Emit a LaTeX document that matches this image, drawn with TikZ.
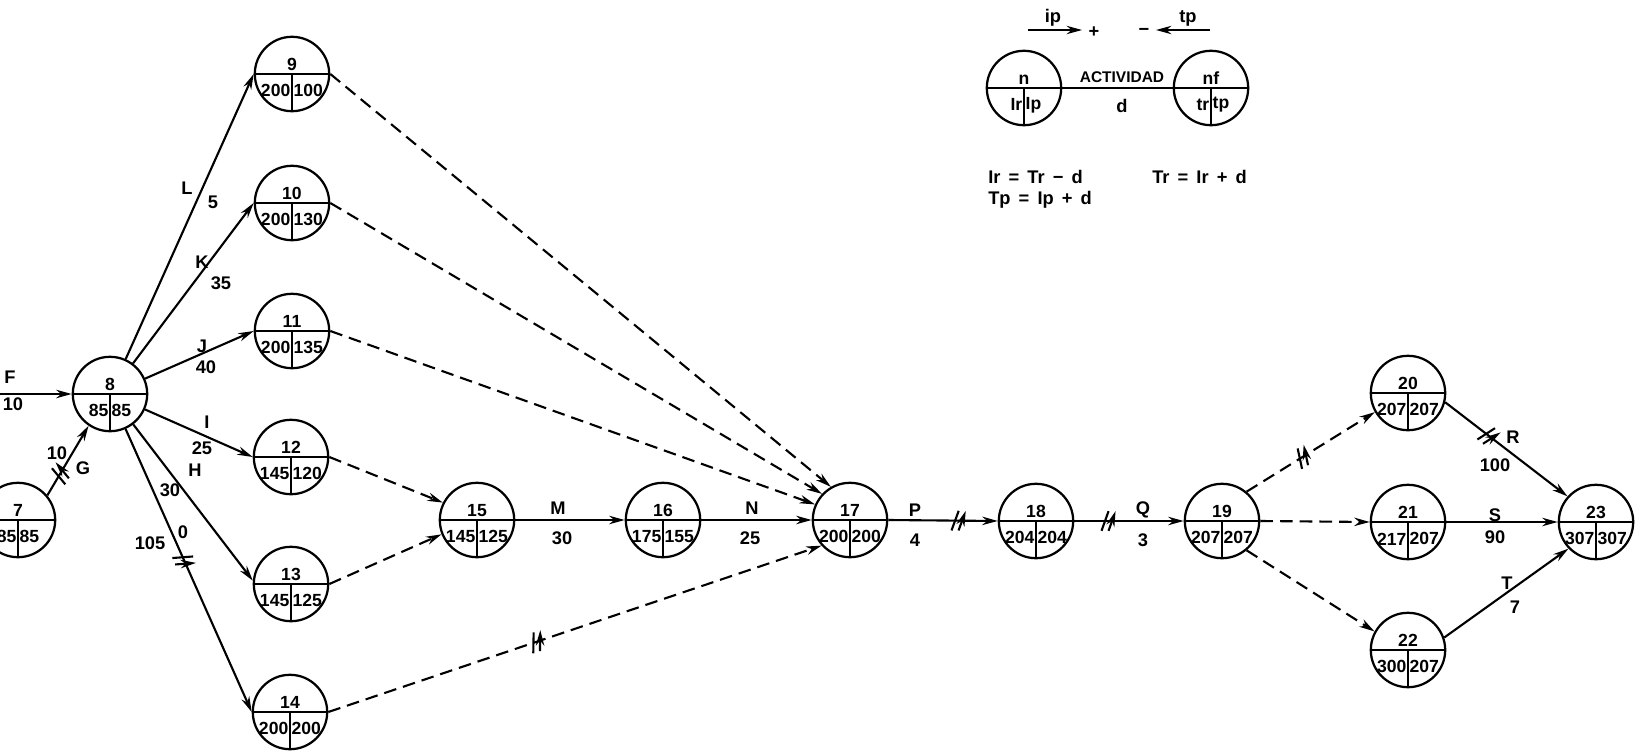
\documentclass[tikz,border=0pt]{standalone}
\usepackage{fontspec}
\setmainfont{Liberation Sans}
\usetikzlibrary{arrows.meta, positioning, decorations.markings}

\tikzstyle{evento}   = [circle, draw, line width=1.6pt, minimum size=18.6mm, inner sep=0pt,
                        path picture={\draw[line width=1.5pt] (path picture bounding box.west) -- (path picture bounding box.east);
                                      \draw[line width=1.5pt] (path picture bounding box.center) -- (path picture bounding box.south);}]
\tikzstyle{numtxt}   = [inner sep=0pt, font=\fontsize{12.5}{12.5}\selectfont\bfseries]
\tikzstyle{lbl}      = [inner sep=0pt, font=\fontsize{13}{13}\selectfont\bfseries]
\tikzstyle{flecha}   = [line width=1.5pt, -{Stealth[length=11pt,width=6pt]}]
\tikzstyle{ficticia} = [flecha, dash pattern=on 9pt off 5pt]
\tikzset{corte/.style={postaction={decorate}, decoration={markings,
           mark=at position #1 with {\draw[line width=1.5pt, solid] (-4pt,-7pt) -- (1pt,7pt) (1pt,-7pt) -- (6pt,7pt);}}}}

% evento: nombre, posicion, numero, izquierda, derecha
\newcommand{\evento}[5]{%
  \node[evento] (#1) at (#2) {};
  \node[numtxt, above=2pt of #1.center] (#1-n) {#3};
  \node[numtxt, anchor=east] (#1-a) at ([shift={(-1pt,-12pt)}]#1.center) {#4};
  \node[numtxt, anchor=west] (#1-b) at ([shift={(1pt,-12pt)}]#1.center) {#5};
}

\begin{document}
\begin{tikzpicture}[x=0.25mm, y=-0.25mm]
    \useasboundingbox (0,0) rectangle (1642,753);

    % leyenda
    \evento{na}{1024,88}{n}{Ir}{Ip}
    \evento{nb}{1211,88}{nf}{tr}{tp}
    \draw[line width=1.5pt] (na.east) -- (nb.west);
    \node[lbl, font=\fontsize{11}{11}\selectfont\bfseries] (act) at (1122,77) {ACTIVIDAD};
    \node[lbl] (dur) at (1122,106) {d};
    \coordinate (ipa) at (1028,30); \coordinate (ipb) at (1082,30);
    \coordinate (tpa) at (1210,30); \coordinate (tpb) at (1156,30);
    \draw[flecha, line width=1pt] (ipa) -- (ipb);
    \draw[flecha, line width=1pt] (tpa) -- (tpb);
    \node[lbl] (ip) at (1053,18) {ip};
    \node[lbl] (mas) at (1094,32) {+};
    \node[lbl] (menos) at (1144,32) {−};
    \node[lbl] (tp) at (1188,18) {tp};
    \node[lbl, anchor=west] (eq1) at (988,177) {Ir \,=\, Tr \,−\, d};
    \node[lbl, anchor=west] (eq2) at (1152,177) {Tr \,=\, Ir \,+\, d};
    \node[lbl, anchor=west] (eq3) at (988,200) {Tp \,=\, Ip \,+\, d};

    % eventos
    \evento{n7}{18,520}{7}{85}{85}
    \evento{n8}{110,394}{8}{85}{85}
    \evento{n9}{292,74}{9}{200}{100}
    \evento{n10}{292,203}{10}{200}{130}
    \evento{n11}{292,331}{11}{200}{135}
    \evento{n12}{291,457}{12}{145}{120}
    \evento{n13}{291,584}{13}{145}{125}
    \evento{n14}{290,712}{14}{200}{200}
    \evento{n15}{477,520}{15}{145}{125}
    \evento{n16}{663,520}{16}{175}{155}
    \evento{n17}{850,520}{17}{200}{200}
    \evento{n18}{1036,521}{18}{204}{204}
    \evento{n19}{1222,521}{19}{207}{207}
    \evento{n20}{1408,393}{20}{207}{207}
    \evento{n21}{1408,522}{21}{217}{207}
    \evento{n22}{1408,650}{22}{300}{207}
    \evento{n23}{1596,522}{23}{307}{307}

    % actividades
    \coordinate (ini) at (0,394);
    \draw[flecha] (ini) -- (n8);
    \draw[flecha, corte=0.3] (n7.40) -- (n8.236);
    \draw[flecha] (n8) -- (n9.west);
    \draw[flecha] (n8) -- (n10.west);
    \draw[flecha] (n8) -- (n11.west);
    \draw[flecha] (n8) -- (n12.west);
    \draw[flecha] (n8) -- (n13.175);
    \draw[flecha, corte=0.46] (n8) -- (n14.west);
    \draw[ficticia] (n9.east) -- (n17.120);
    \draw[ficticia] (n10.east) -- (n17.137);
    \draw[ficticia] (n11.east) -- (n17.156);
    \draw[ficticia] (n12.east) -- (n15.153);
    \draw[ficticia] (n13.east) -- (n15.202);
    \draw[ficticia, corte=0.42] (n14.east) -- (n17.222);
    \draw[flecha] (n15.east) -- (n16.west);
    \draw[flecha] (n16.east) -- (n17.west);
    \draw[flecha, corte=0.63] (n17.east) -- (n18.west);
    \draw[flecha, corte=0.3] (n18.east) -- (n19.west);
    \draw[ficticia, corte=0.43] (n19.50) -- (n20.210);
    \draw[ficticia] (n19.east) -- (n21.west);
    \draw[ficticia] (n19.-50) -- (n22.151);
    \draw[flecha, corte=0.35] (n20.-14) -- (n23.138);
    \draw[flecha] (n21.east) -- (n23.west);
    \draw[flecha] (n22.19) -- (n23.224);

    % etiquetas
    \node[lbl] (lF) at (10,377) {F};      \node[lbl] (dF) at (13,404) {10};
    \node[lbl] (lG) at (83,468) {G};      \node[lbl] (dG) at (57,453) {10};
    \node[lbl] (lL) at (187,188) {L};     \node[lbl] (dL) at (213,202) {5};
    \node[lbl] (lK) at (202,262) {K};     \node[lbl] (dK) at (221,283) {35};
    \node[lbl] (lJ) at (202,346) {J};     \node[lbl] (dJ) at (206,367) {40};
    \node[lbl] (lI) at (207,422) {I};     \node[lbl] (dI) at (202,448) {25};
    \node[lbl] (lH) at (195,470) {H};     \node[lbl] (dH) at (170,490) {30};
    \node[lbl] (lO) at (183,532) {0};     \node[lbl] (dO) at (150,543) {105};
    \node[lbl] (lM) at (558,508) {M};     \node[lbl] (dM) at (562,538) {30};
    \node[lbl] (lN) at (752,508) {N};     \node[lbl] (dN) at (750,538) {25};
    \node[lbl] (lP) at (915,510) {P};     \node[lbl] (dP) at (915,540) {4};
    \node[lbl] (lQ) at (1143,510) {Q};    \node[lbl] (dQ) at (1143,540) {3};
    \node[lbl] (lR) at (1513,437) {R};    \node[lbl] (dR) at (1495,465) {100};
    \node[lbl] (lS) at (1495,515) {S};    \node[lbl] (dS) at (1495,537) {90};
    \node[lbl] (lT) at (1507,583) {T};    \node[lbl] (dT) at (1515,607) {7};
\end{tikzpicture}
\end{document}
